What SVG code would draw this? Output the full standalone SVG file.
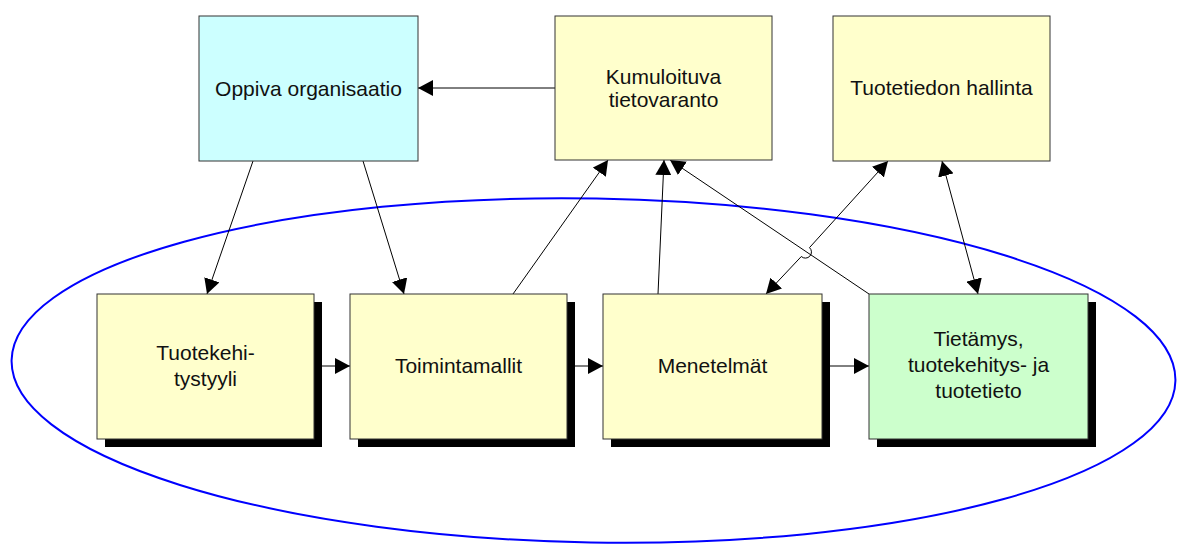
<svg xmlns="http://www.w3.org/2000/svg" width="1177" height="544" viewBox="0 0 1177 544">
<style>
.box{stroke:#333;stroke-width:1}
.y{fill:#ffffcc}
.c{fill:#ccffff}
.g{fill:#ccffcc}
.sh{fill:#000}
.t{font-family:"Liberation Sans",Arial,sans-serif;font-size:21px;fill:#111;text-anchor:middle}
.ln{stroke:#000;stroke-width:1;fill:none}
</style>
<defs>
<marker id="ah" markerUnits="userSpaceOnUse" markerWidth="16" markerHeight="16" refX="15" refY="8" orient="auto-start-reverse" viewBox="0 0 16 16">
<path d="M0,0 L15,8 L0,16 Z" fill="#000"/>
</marker>
</defs>
<rect width="1177" height="544" fill="#fff"/>
<ellipse cx="593.5" cy="370.5" rx="582" ry="172" fill="none" stroke="#0000ff" stroke-width="2" transform="rotate(1 593.5 370.5)"/>
<g id="connectors">
<line class="ln" x1="555" y1="88" x2="418" y2="88" marker-end="url(#ah)"/>
<line class="ln" x1="253" y1="161" x2="207" y2="294" marker-end="url(#ah)"/>
<line class="ln" x1="363" y1="161" x2="404" y2="294" marker-end="url(#ah)"/>
<line class="ln" x1="513" y1="294" x2="608" y2="160" marker-end="url(#ah)"/>
<line class="ln" x1="658" y1="294" x2="664" y2="160" marker-end="url(#ah)"/>
<line class="ln" x1="869" y1="294" x2="670" y2="160" marker-end="url(#ah)"/>
<path class="ln" d="M888,161 L809.5,247.6 A6,6 0 0 1 801.3,256.5 L766,294" marker-start="url(#ah)" marker-end="url(#ah)"/>
<line class="ln" x1="942" y1="161" x2="978" y2="294" marker-start="url(#ah)" marker-end="url(#ah)"/>
<line class="ln" x1="322" y1="366" x2="350" y2="366" marker-end="url(#ah)"/>
<line class="ln" x1="575" y1="366" x2="603" y2="366" marker-end="url(#ah)"/>
<line class="ln" x1="830" y1="366" x2="869" y2="366" marker-end="url(#ah)"/>
</g>
<g id="oppiva">
<rect class="box c" x="199" y="16" width="219" height="145"/>
<text class="t" x="308.5" y="96">Oppiva organisaatio</text>
</g>
<g id="kumuloituva">
<rect class="box y" x="555" y="16" width="217" height="144"/>
<text class="t" x="663.5" y="84">Kumuloituva</text>
<text class="t" x="663.5" y="107">tietovaranto</text>
</g>
<g id="tuotetiedon">
<rect class="box y" x="833" y="16" width="217" height="145"/>
<text class="t" x="941.5" y="95">Tuotetiedon hallinta</text>
</g>
<g id="tuotekehitystyyli">
<rect class="sh" x="105" y="302" width="217" height="145"/>
<rect class="box y" x="97" y="294" width="217" height="145"/>
<text class="t" x="205.5" y="360">Tuotekehi-</text>
<text class="t" x="205.5" y="386">tystyyli</text>
</g>
<g id="toimintamallit">
<rect class="sh" x="358" y="302" width="217" height="145"/>
<rect class="box y" x="350" y="294" width="217" height="145"/>
<text class="t" x="458.5" y="373">Toimintamallit</text>
</g>
<g id="menetelmat">
<rect class="sh" x="611" y="302" width="219" height="145"/>
<rect class="box y" x="603" y="294" width="219" height="145"/>
<text class="t" x="712.5" y="373">Menetelmät</text>
</g>
<g id="tietamys">
<rect class="sh" x="877" y="302" width="219" height="145"/>
<rect class="box g" x="869" y="294" width="219" height="145"/>
<text class="t" x="978.5" y="346">Tietämys,</text>
<text class="t" x="978.5" y="372">tuotekehitys- ja</text>
<text class="t" x="978.5" y="398">tuotetieto</text>
</g>
</svg>
